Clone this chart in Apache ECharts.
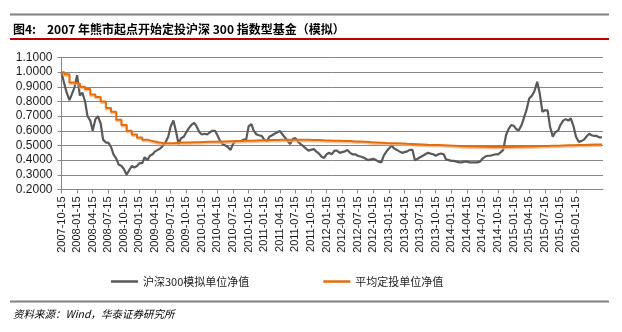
<!DOCTYPE html>
<html>
<head>
<meta charset="utf-8">
<script src="https://cdn.jsdelivr.net/npm/echarts@6.0.0/dist/echarts.min.js"></script>
<style>
  html, body { margin: 0; padding: 0; background: #fff; }
  #chart { width: 622px; height: 332px; }
</style>
</head>
<body>
<div id="chart"></div>
<script>
// Quarterly date ticks along the x axis
const tickLabels = [
  '2007-10-15','2008-01-15','2008-04-15','2008-07-15','2008-10-15','2009-01-15','2009-04-15',
  '2009-07-15','2009-10-15','2010-01-15','2010-04-15','2010-07-15','2010-10-15','2011-01-15',
  '2011-04-15','2011-07-15','2011-10-15','2012-01-15','2012-04-15','2012-07-15','2012-10-15',
  '2013-01-15','2013-04-15','2013-07-15','2013-10-15','2014-01-15','2014-04-15','2014-07-15',
  '2014-10-15','2015-01-15','2015-04-15','2015-07-15','2015-10-15','2016-01-15','2016-04-15'
];

// 沪深300模拟单位净值: sampled on the 15th and the 1st of each month from 2007-10-15
const hs300Nav = [
  1.00,0.92,0.86,0.81,0.85,0.90,0.98,0.84,0.86,0.80,0.70,0.67,
  0.60,0.68,0.70,0.65,0.54,0.52,0.52,0.49,0.44,0.41,0.37,0.36,
  0.34,0.30,0.33,0.36,0.35,0.36,0.38,0.38,0.42,0.40,0.43,0.44,
  0.46,0.47,0.48,0.50,0.52,0.56,0.63,0.67,0.60,0.51,0.55,0.56,
  0.59,0.62,0.64,0.655,0.63,0.59,0.575,0.58,0.575,0.59,0.60,0.60,
  0.57,0.53,0.51,0.50,0.49,0.47,0.51,0.53,0.53,0.53,0.54,0.54,
  0.63,0.645,0.60,0.575,0.57,0.565,0.54,0.53,0.56,0.57,0.58,0.59,
  0.60,0.575,0.555,0.53,0.51,0.545,0.55,0.525,0.51,0.495,0.48,0.465,
  0.47,0.475,0.46,0.445,0.425,0.415,0.44,0.45,0.44,0.465,0.465,0.45,
  0.455,0.46,0.47,0.45,0.44,0.44,0.43,0.425,0.42,0.41,0.40,0.405,
  0.41,0.40,0.39,0.385,0.43,0.46,0.48,0.50,0.48,0.47,0.46,0.45,
  0.455,0.46,0.47,0.47,0.40,0.41,0.42,0.43,0.44,0.45,0.445,0.44,
  0.43,0.44,0.445,0.44,0.405,0.40,0.395,0.395,0.39,0.385,0.385,0.39,
  0.39,0.385,0.385,0.385,0.385,0.39,0.41,0.425,0.43,0.43,0.435,0.44,
  0.44,0.455,0.47,0.57,0.61,0.64,0.635,0.61,0.605,0.64,0.69,0.75,
  0.82,0.84,0.87,0.935,0.86,0.73,0.74,0.74,0.63,0.56,0.59,0.60,
  0.64,0.67,0.68,0.67,0.685,0.63,0.56,0.525,0.53,0.54,0.56,0.58,
  0.57,0.565,0.565,0.555,0.555
];

// 平均定投单位净值: starting value on 2007-10-15, then one value per monthly investment (1st of month, 2007-11 .. 2016-06)
const avgCostStart = 1.000;
const avgCostMonthly = [
  0.985,0.930,
  0.922,0.900,0.885,0.848,0.830,0.800,0.755,0.730,0.675,0.640,0.600,0.575,
  0.555,0.540,0.530,0.522,0.517,0.515,0.516,0.518,0.520,0.521,0.522,0.523,
  0.524,0.525,0.526,0.527,0.528,0.529,0.530,0.531,0.532,0.533,0.534,0.535,
  0.536,0.537,0.538,0.539,0.539,0.540,0.540,0.540,0.539,0.538,0.537,0.535,
  0.534,0.533,0.532,0.531,0.530,0.528,0.527,0.525,0.523,0.521,0.519,0.517,
  0.516,0.515,0.514,0.512,0.511,0.509,0.507,0.505,0.504,0.503,0.502,0.500,
  0.498,0.496,0.495,0.494,0.493,0.492,0.491,0.490,0.490,0.489,0.489,0.490,
  0.491,0.492,0.493,0.494,0.495,0.496,0.497,0.498,0.499,0.500,0.501,0.502,
  0.503,0.504,0.505,0.506,0.506,0.507
];

const seriesNames = ['沪深300模拟单位净值', '平均定投单位净值'];
const titleNo = '图4:';
const titleText = '2007 年熊市起点开始定投沪深 300 指数型基金（模拟）';
const sourceText = '资料来源：Wind，华泰证券研究所';

// Months elapsed since 2007-10-15 (x axis unit)
function monthIndex(dateStr) {
  const [y, mo, d] = dateStr.split('-').map(Number);
  return (y - 2007) * 12 + (mo - 10) + (d - 15) / 30.4;
}
function ymd(totalMonth, day) {
  const y = 2007 + Math.floor(totalMonth / 12);
  const mo = totalMonth % 12 + 1;
  return y + '-' + String(mo).padStart(2, '0') + '-' + String(day).padStart(2, '0');
}

// semi-monthly sample dates: even index -> 15th, odd index -> 1st of next month
const hs300Dates = hs300Nav.map((_, i) => i % 2 === 0 ? ymd(9 + i / 2, 15) : ymd(9 + (i + 1) / 2, 1));
const hs300Data = hs300Nav.map((v, i) => [monthIndex(hs300Dates[i]), v]);

const avgDates = ['2007-10-15'].concat(avgCostMonthly.map((_, k) => ymd(10 + k, 1)));
const avgValues = [avgCostStart].concat(avgCostMonthly);
const avgData = avgValues.map((v, i) => [monthIndex(avgDates[i]), v]);
// hold the last value through the final sample date
avgData.push([monthIndex(hs300Dates[hs300Dates.length - 1]), avgValues[avgValues.length - 1]]);

const tickPos = tickLabels.map(monthIndex);
const labelAt = v => {
  const k = tickPos.findIndex(p => Math.abs(p - v) < 0.01);
  return k >= 0 ? tickLabels[k] : '';
};

const axisGrey = '#868686';
const cjk = '"Noto Sans CJK SC", "Noto Sans", sans-serif';
const latin = '"Liberation Sans", Arial, sans-serif';

const chart = echarts.init(document.getElementById('chart'), null, { renderer: 'canvas' });
chart.setOption({
  animation: false,
  backgroundColor: '#fff',
  grid: { left: 61.5, top: 57.5, width: 541.5, height: 132, containLabel: false },
  xAxis: {
    type: 'value',
    min: 0,
    max: 104.2,
    interval: 3,
    splitLine: { show: false },
    axisLine: { show: true, lineStyle: { color: axisGrey, width: 1 } },
    axisTick: { show: true, length: 4, inside: false, customValues: tickPos, lineStyle: { color: axisGrey } },
    axisLabel: {
      customValues: tickPos,
      rotate: 90,
      margin: 7,
      fontSize: 11,
      fontFamily: latin,
      color: '#1a1a1a',
      showMaxLabel: false,
      formatter: labelAt
    }
  },
  yAxis: {
    type: 'value',
    min: 0.2,
    max: 1.1,
    interval: 0.1,
    axisLine: { show: true, lineStyle: { color: axisGrey, width: 1 } },
    axisTick: { show: true, length: 4, lineStyle: { color: axisGrey } },
    splitLine: { show: true, lineStyle: { color: axisGrey, width: 1 } },
    axisLabel: {
      margin: 9,
      fontSize: 12,
      fontFamily: latin,
      color: '#1a1a1a',
      formatter: v => v.toFixed(4)
    }
  },
  legend: {
    left: 106,
    top: 271,
    icon: 'rect',
    itemWidth: 27,
    itemHeight: 2.5,
    itemGap: 74,
    textStyle: { fontSize: 11, fontFamily: cjk, color: '#222' },
    data: seriesNames
  },
  series: [
    {
      name: seriesNames[0],
      type: 'line',
      data: hs300Data,
      symbol: 'none',
      lineStyle: { color: '#595959', width: 2.2 },
      itemStyle: { color: '#595959' },
      z: 2
    },
    {
      name: seriesNames[1],
      type: 'line',
      data: avgData,
      step: 'end',
      symbol: 'none',
      lineStyle: { color: '#E46C0A', width: 2, shadowColor: 'rgba(244,170,120,0.7)', shadowOffsetY: 1.5, shadowBlur: 0 },
      itemStyle: { color: '#E46C0A' },
      z: 3
    }
  ],
  graphic: [
    { type: 'line', shape: { x1: 10, y1: 14.5, x2: 609, y2: 14.5 }, style: { stroke: '#808080', lineWidth: 2 } },
    { type: 'text', left: 13, top: 23, style: { text: titleNo, font: 'bold 12px ' + cjk, fill: '#000' } },
    { type: 'text', left: 47, top: 23, style: { text: titleText, font: 'bold 12px ' + cjk, fill: '#000' } },
    { type: 'line', shape: { x1: 10, y1: 39, x2: 609, y2: 39 }, style: { stroke: '#C00000', lineWidth: 2 } },
    { type: 'line', shape: { x1: 10, y1: 301.5, x2: 609, y2: 301.5 }, style: { stroke: '#808080', lineWidth: 2 } },
    { type: 'text', left: 13, top: 309, style: { text: sourceText, font: 'italic 10.5px ' + cjk, fill: '#000' } }
  ]
});
</script>
</body>
</html>
